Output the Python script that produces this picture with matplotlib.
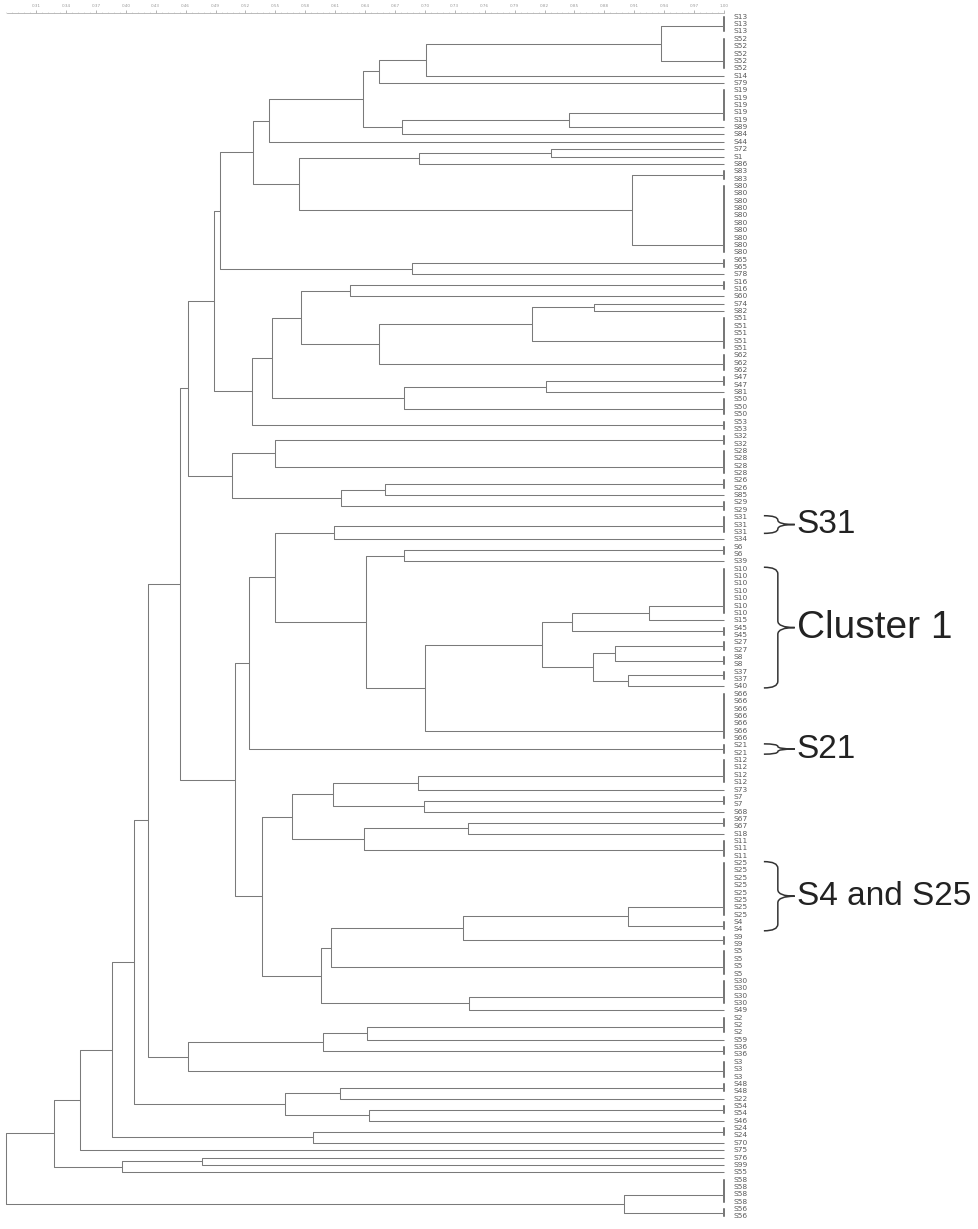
import matplotlib
matplotlib.use('Agg')
import matplotlib.pyplot as plt
import matplotlib.transforms as mtransforms
from matplotlib.path import Path
from matplotlib.patches import PathPatch
import numpy as np

# groups of identical isolates (joined at similarity 1.00), top to bottom
group_labels = ['S13', 'S52', 'S14', 'S79', 'S19', 'S89', 'S84', 'S44', 'S72', 'S1',
                'S86', 'S83', 'S80', 'S65', 'S78', 'S16', 'S60', 'S74', 'S82', 'S51',
                'S62', 'S47', 'S81', 'S50', 'S53', 'S32', 'S28', 'S26', 'S85', 'S29',
                'S31', 'S34', 'S6', 'S39', 'S10', 'S15', 'S45', 'S27', 'S8', 'S37',
                'S40', 'S66', 'S21', 'S12', 'S73', 'S7', 'S68', 'S67', 'S18', 'S11',
                'S25', 'S4', 'S9', 'S5', 'S30', 'S49', 'S2', 'S59', 'S36', 'S3',
                'S48', 'S22', 'S54', 'S46', 'S24', 'S70', 'S75', 'S76', 'S99', 'S55',
                'S58', 'S56']
group_counts = [3, 5, 1, 1, 5, 1, 1, 1, 1, 1,
                1, 2, 10, 2, 1, 2, 1, 1, 1, 5,
                3, 2, 1, 3, 2, 2, 4, 2, 1, 2,
                3, 1, 2, 1, 7, 1, 2, 2, 2, 2,
                1, 7, 2, 4, 1, 2, 1, 2, 1, 3,
                8, 2, 2, 4, 4, 1, 3, 1, 2, 3,
                2, 1, 2, 1, 2, 1, 1, 1, 1, 1,
                4, 2]

# clusters: (similarity, upper, lower)
top_part = (0.544,
            (0.638, (0.654, (0.701, (0.937, 'S13', 'S52'), 'S14'), 'S79'),
             (0.677, (0.845, 'S19', 'S89'), 'S84')),
            'S44')
part_b = (0.574, (0.694, (0.826, 'S72', 'S1'), 'S86'), (0.908, 'S83', 'S80'))
part_d = (0.494, (0.528, top_part, part_b), (0.687, 'S65', 'S78'))
part_e = (0.527,
          (0.547,
           (0.576, (0.625, 'S16', 'S60'),
            (0.654, (0.807, (0.870, 'S74', 'S82'), 'S51'), 'S62')),
           (0.679, (0.821, 'S47', 'S81'), 'S50')),
          'S53')
part_g = (0.507, (0.550, 'S32', 'S28'), (0.616, (0.660, 'S26', 'S85'), 'S29'))
part_j = (0.524,
          (0.550, (0.609, 'S31', 'S34'),
           (0.641, (0.679, 'S6', 'S39'),
            (0.700,
             (0.817, (0.848, (0.925, 'S10', 'S15'), 'S45'),
              (0.869, (0.891, 'S27', 'S8'), (0.904, 'S37', 'S40'))),
             'S66'))),
          'S21')
part_l = (0.537,
          (0.567, (0.608, (0.693, 'S12', 'S73'), (0.699, 'S7', 'S68')),
           (0.639, (0.743, 'S67', 'S18'), 'S11')),
          (0.596, (0.606, (0.738, (0.904, 'S25', 'S4'), 'S9'), 'S5'),
           (0.744, 'S30', 'S49')))
part_m = (0.454, (0.462, (0.488, part_d, part_e), part_g), (0.510, part_j, part_l))
part_k = (0.462, (0.598, (0.642, 'S2', 'S59'), 'S36'), 'S3')
part_o = (0.408, (0.422, part_m, part_k),
          (0.560, (0.615, 'S48', 'S22'), (0.644, 'S54', 'S46')))
part_r = (0.328, (0.354, (0.386, part_o, (0.588, 'S24', 'S70')), 'S75'),
          (0.396, (0.476, 'S76', 'S99'), 'S55'))
tree = (0.280, part_r, (0.900, 'S58', 'S56'))

scale_ticks = np.round(np.arange(0.31, 1.0001, 0.03), 2)

# bracketed groups on the right: (text, first group, last group)
callouts = [('S31', 'S31', 'S31'),
            ('Cluster 1', 'S10', 'S40'),
            ('S21', 'S21', 'S21'),
            ('S4 and S25', 'S25', 'S4')]
callout_size = {'Cluster 1': 28}

first_row = {}
row = 0
for lab, n in zip(group_labels, group_counts):
    first_row[lab] = row
    row += n
count = dict(zip(group_labels, group_counts))
n_rows = row

fig = plt.figure(figsize=(9.79, 12.29), dpi=100)
top_px = 13
ax = fig.add_axes([0, 0, 1, 1 - top_px / 1229])
ax.set_xlim(1 - 724 / 997, 1 + 255 / 997)
spacing = 7.36
ax.set_ylim((1229 - 16.7) / spacing, (top_px - 16.7) / spacing)

line_kw = dict(color='#7a7a7a', lw=0.75, solid_capstyle='butt')


def draw(node):
    if isinstance(node, str):
        r0 = first_row[node]
        n = count[node]
        y = r0
        for k in range(1, n):
            y = (y + r0 + k) / 2
        if n > 1:
            ax.plot([1, 1], [r0, r0 + n - 1], color='#505050', lw=1.1)
        return y, 1.0
    h, a, b = node
    ya, ha = draw(a)
    yb, hb = draw(b)
    ax.plot([ha, h, h, hb], [ya, ya, yb, yb], **line_kw)
    return (ya + yb) / 2, h


draw(tree)

# leaf labels
lab_tr = mtransforms.offset_copy(ax.transData, fig=fig, x=6.5, y=0, units='points')
for lab, n in zip(group_labels, group_counts):
    for k in range(n):
        ax.text(1.0, first_row[lab] + k, lab, transform=lab_tr, fontsize=5.4,
                va='center', ha='left', color='#5a5a5a', family='DejaVu Sans')

# top similarity scale
for s in ['left', 'right', 'bottom']:
    ax.spines[s].set_visible(False)
ax.spines['top'].set_bounds(0.281, 1.0)
ax.spines['top'].set_color('#b0b0b0')
ax.spines['top'].set_linewidth(0.6)
ax.xaxis.set_ticks_position('top')
ax.set_xticks(scale_ticks)
ax.set_xticklabels(['%.2f' % t for t in scale_ticks])
ax.set_xticks(np.round(np.arange(scale_ticks[0] - 0.03, 1.0, 0.006), 3), minor=True)
ax.tick_params(axis='x', which='major', direction='out', length=2.5, width=0.5,
               colors='#999999', labelsize=3, pad=0.8)
ax.tick_params(axis='x', which='minor', direction='out', length=1, width=0.4,
               colors='#bbbbbb')
ax.set_yticks([])


def brace(y0, y1, x_left, x_mid, x_tip):
    ym = (y0 + y1) / 2
    r = min(0.9, (y1 - y0) / 4)
    verts = [(x_left, y0), (x_mid, y0), (x_mid, y0 + r),
             (x_mid, ym - r), (x_mid, ym), (x_tip, ym),
             (x_mid, ym), (x_mid, ym + r),
             (x_mid, y1 - r), (x_mid, y1), (x_left, y1)]
    codes = [Path.MOVETO, Path.CURVE3, Path.CURVE3,
             Path.LINETO, Path.CURVE3, Path.CURVE3,
             Path.CURVE3, Path.CURVE3,
             Path.LINETO, Path.CURVE3, Path.CURVE3]
    ax.add_patch(PathPatch(Path(verts, codes), fill=False, ec='#333333', lw=1.1))


for text, g0, g1 in callouts:
    y0 = first_row[g0] - 0.2
    y1 = first_row[g1] + count[g1] - 1 + 0.2
    brace(y0, y1, 1.040, 1.054, 1.071)
    ax.text(1.073, (y0 + y1) / 2, text, fontsize=callout_size.get(text, 24),
            family='Liberation Sans', va='center', ha='left', color='#222222')

fig.savefig('out.png', dpi=100)
